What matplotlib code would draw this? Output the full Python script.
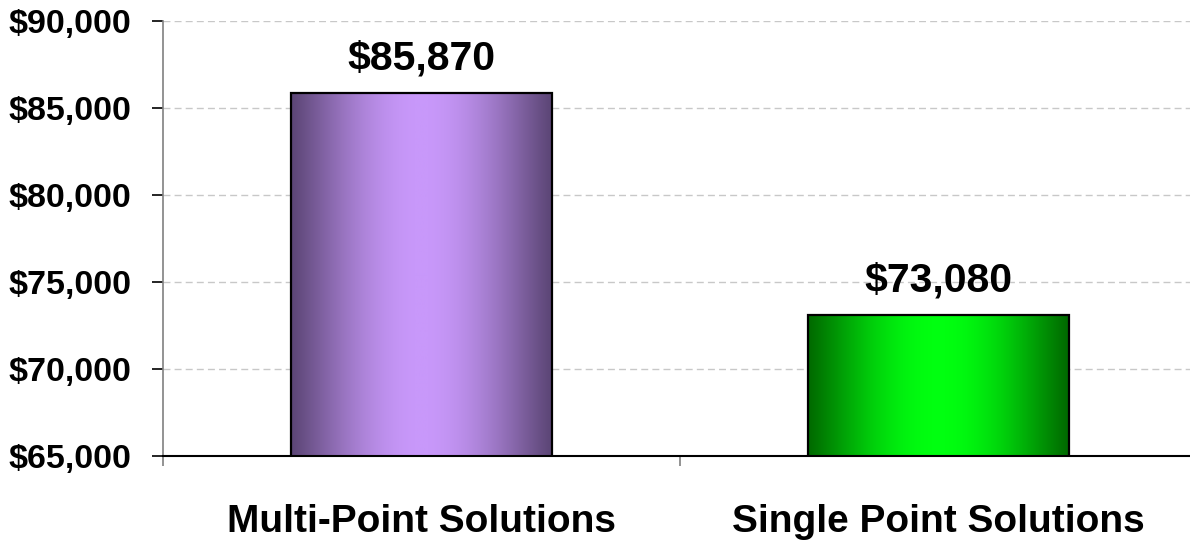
import numpy as np
import matplotlib.pyplot as plt
from matplotlib.colors import LinearSegmentedColormap
from matplotlib.ticker import FuncFormatter, MultipleLocator, FixedLocator

# Data
categories = ['Multi-Point Solutions', 'Single Point Solutions']
values = [85870, 73080]
value_labels = ['$85,870', '$73,080']

# Styling
edge_colors = ['#5c4676', '#006a00']
mid_colors = ['#c898fa', '#00ff10']

plt.rcParams['font.family'] = ['Liberation Sans', 'DejaVu Sans']
plt.rcParams['font.weight'] = 'bold'

fig = plt.figure(figsize=(11.9, 5.41), dpi=100)
ax = fig.add_axes([163/1190, 1-456/541, (1197-163)/1190, (456-21)/541])

x = np.arange(len(categories))
bars = ax.bar(x, values, width=0.503, bottom=0, color='none', edgecolor='black',
              linewidth=1.6, zorder=3)

# gradient fill for each bar (dark edges, light centre)
u = np.linspace(0, 1, 256)
prof = np.sin(np.pi * u)**1.1
for bar, c0, c1 in zip(bars, edge_colors, mid_colors):
    cmap = LinearSegmentedColormap.from_list('g', [c0, c1])
    bx, bw, bh = bar.get_x(), bar.get_width(), bar.get_height()
    im = ax.imshow(prof[np.newaxis, :], cmap=cmap, aspect='auto',
                   extent=[bx, bx + bw, 65000, bh], zorder=2, vmin=0, vmax=1)
    im.set_clip_path(bar)

for xi, v, lab in zip(x, values, value_labels):
    ax.annotate(lab, (xi, v), xytext=(0, 17), textcoords='offset points',
                ha='center', va='baseline', fontsize=29.5, fontweight='bold')

ax.set_xlim(-0.5, 1.5)
ax.set_ylim(65000, 90000)
ax.yaxis.set_major_locator(MultipleLocator(5000))
ax.yaxis.set_major_formatter(FuncFormatter(lambda v, p: '${:,.0f}'.format(v)))
ax.tick_params(axis='y', length=8, width=1.2, color='black', pad=15, labelsize=24.5)

ax.set_xticks(x)
ax.set_xticklabels(categories, fontsize=28, fontweight='bold')
ax.tick_params(axis='x', which='major', length=0, pad=34.5)
ax.xaxis.set_minor_locator(FixedLocator([-0.5, 0.5, 1.5]))
ax.tick_params(axis='x', which='minor', length=7, width=1.2, color='#808080', direction='out')

ax.grid(axis='y', color='#c8c8c8', linestyle=(0, (5, 3)), linewidth=1, zorder=0)
ax.set_axisbelow(True)

for s in ['top', 'right']:
    ax.spines[s].set_visible(False)
ax.spines['left'].set_color('#808080')
ax.spines['left'].set_linewidth(1.2)
ax.spines['bottom'].set_color('black')
ax.spines['bottom'].set_linewidth(1.5)

fig.savefig('out.png', dpi=100)
